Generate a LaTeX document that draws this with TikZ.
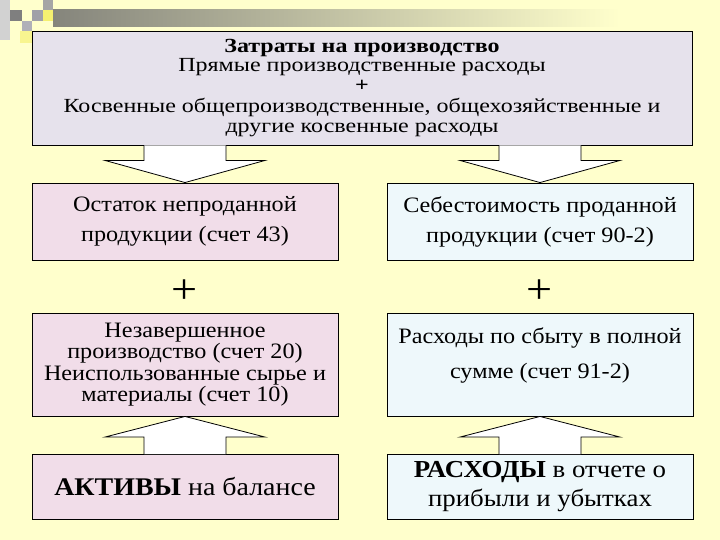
\documentclass[tikz,border=0pt]{standalone}
\usepackage{fontspec}
\setmainfont{Liberation Serif}[FakeStretch=1.1]
\newfontfamily\topfont{Liberation Serif}[FakeStretch=1.2]
\usetikzlibrary{calc}
\definecolor{bgyel}{HTML}{FFFFCC}
\definecolor{topfill}{HTML}{E6E2EC}
\definecolor{pinkfill}{HTML}{F1DDE9}
\definecolor{bluefill}{HTML}{EEF8FB}
\definecolor{bargray}{HTML}{85857C}
\definecolor{sqa}{HTML}{7F7F7F}
\definecolor{sqb}{HTML}{A0A0A8}
\definecolor{sqc}{HTML}{A5A5A5}
\definecolor{sqd}{HTML}{F5F070}
\definecolor{sqe}{HTML}{B0B0B8}
\definecolor{sqf}{HTML}{F8F590}
\tikzset{
  box/.style={draw=black, line width=0.9pt, rectangle, inner sep=0pt, align=center, minimum width=306pt},
  topbox/.style={box, fill=topfill, minimum width=660pt, minimum height=114pt,
     font=\topfont\fontsize{20}{19.5}\selectfont},
  pinkbox/.style={box, fill=pinkfill},
  bluebox/.style={box, fill=bluefill},
  boxtext/.style={inner sep=0pt, align=center},
  plus/.style={font=\fontsize{42}{42}\selectfont, inner sep=0pt},
  blockarrow/.style={draw=black, line width=0.8pt, fill=white, line join=miter}
}
\begin{document}
\begin{tikzpicture}[x=1pt, y=-1pt]
\useasboundingbox (0,0) rectangle (720,540);
\fill[bgyel] (0,0) rectangle (720,540);
% top-left decoration
\shade[left color=bargray, right color=bgyel] (53,10) rectangle (620,27);
\fill[gray!35] (0,0) rectangle (10,40);
\fill[sqa] (10,10) rectangle (22,21);
\fill[sqb] (32,10) rectangle (43,21);
\fill[sqc] (43,0) rectangle (53,10);
\fill[sqd] (43,10) rectangle (53,21);
\fill[sqe] (22,21) rectangle (32,31);
\fill[sqf] (20,31) rectangle (32,43);

% boxes
\node[topbox] (top) at (362,88) {\textbf{Затраты на производство}\\Прямые производственные расходы\\\textbf{+}\\[2pt]Косвенные общепроизводственные, общехозяйственные и\\другие косвенные расходы};

\node[pinkbox, minimum height=77pt, font=\fontsize{22}{30}\selectfont] (l1) at (185,221.5) {Остаток непроданной\\продукции (счет 43)};
\node[bluebox, minimum height=77pt, font=\fontsize{22}{30}\selectfont] (r1) at (540,221.5) {Себестоимость проданной\\продукции (счет 90-2)};

\node[plus] (p1) at (185,292) {+};
\node[plus] (p2) at (540,292) {+};

\node[pinkbox, minimum height=103pt, font=\fontsize{22}{21.3}\selectfont] (l2) at (185,364.5) {Незавершенное\\производство (счет 20)\\Неиспользованные сырье и\\материалы (счет 10)};
\node[bluebox, minimum height=103pt] (r2) at (540,364.5) {};
\node[boxtext, font=\fontsize{22}{35}\selectfont] (r2t) at (540,355) {Расходы по сбыту в полной\\сумме (счет 91-2)};

\node[pinkbox, minimum height=65pt, font=\fontsize{25.4}{28}\selectfont] (l3) at (185,487) {\textbf{АКТИВЫ} на балансе};
\node[bluebox, minimum height=65pt, font=\fontsize{24.4}{29}\selectfont] (r3) at (540,487) {\textbf{РАСХОДЫ} в отчете о\\прибыли и убытках};

% block arrows down
\foreach \t in {l1,r1}{
  \draw[blockarrow]
    ($(\t.north |- top.south)+(-41,0)$) -- ($(\t.north |- top.south)+(-41,15)$)
    -- ($(\t.north |- top.south)+(-80,15)$) -- (\t.north)
    -- ($(\t.north |- top.south)+(80,15)$) -- ($(\t.north |- top.south)+(41,15)$)
    -- ($(\t.north |- top.south)+(41,0)$);
}
% block arrows up
\draw[blockarrow]
  ($(l2.south |- l3.north)+(-41,0)$) -- ($(l2.south |- l3.north)+(-41,-17)$)
  -- ($(l2.south |- l3.north)+(-80,-17)$) -- (l2.south)
  -- ($(l2.south |- l3.north)+(80,-17)$) -- ($(l2.south |- l3.north)+(41,-17)$)
  -- ($(l2.south |- l3.north)+(41,0)$);
\draw[blockarrow]
  ($(r2.south |- r3.north)+(-41,0)$) -- ($(r2.south |- r3.north)+(-41,-17)$)
  -- ($(r2.south |- r3.north)+(-80,-17)$) -- (r2.south)
  -- ($(r2.south |- r3.north)+(80,-17)$) -- ($(r2.south |- r3.north)+(41,-17)$)
  -- ($(r2.south |- r3.north)+(41,0)$);
\end{tikzpicture}
\end{document}
